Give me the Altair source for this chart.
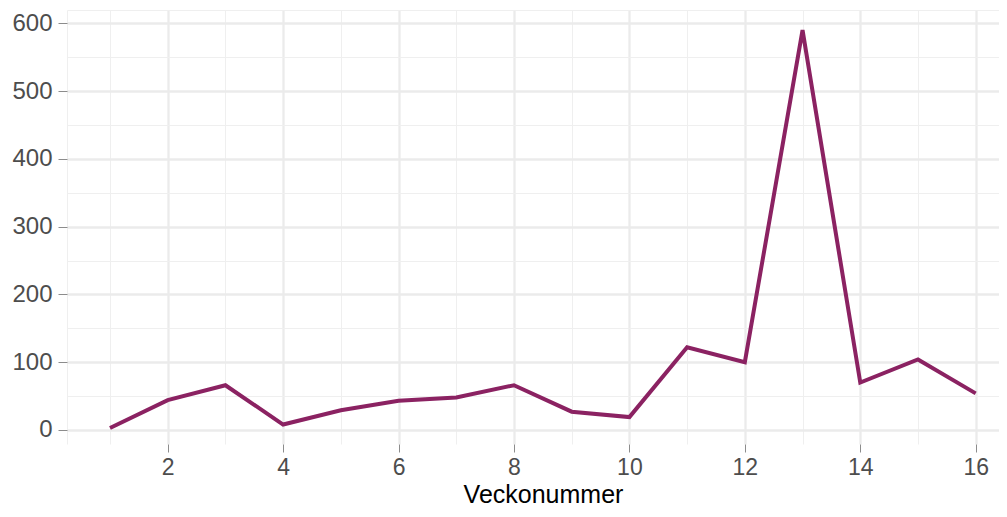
import altair as alt
import pandas as pd

# Data
weeks = list(range(1, 17))
cases = [3, 44, 66, 8, 29, 43, 48, 66, 27, 19, 122, 100, 590, 70, 104, 54]

# Axis tick / grid values
x_major = [2, 4, 6, 8, 10, 12, 14, 16]
x_minor = [0.255, 1, 3, 5, 7, 9, 11, 13, 15]
y_major = [0, 100, 200, 300, 400, 500, 600]
y_minor = [50, 150, 250, 350, 450, 550, 619.6]
x_domain = [0.255, 16.404]
y_domain = [-20.7, 619.6]

df = pd.DataFrame({"Vecka": weeks, "Antal": cases})

FONT = "Liberation Sans"
xs = alt.Scale(domain=x_domain, nice=False, zero=False)
ys = alt.Scale(domain=y_domain, nice=False, zero=False)

minor = alt.Chart(df).mark_line(opacity=0).encode(
    x=alt.X("Vecka:Q", scale=xs, axis=alt.Axis(
        values=x_minor, grid=True, gridColor="#efefef", gridWidth=1.1,
        labels=False, ticks=False, domain=False, title=None, orient="top")),
    y=alt.Y("Antal:Q", scale=ys, axis=alt.Axis(
        values=y_minor, grid=True, gridColor="#efefef", gridWidth=1.1,
        labels=False, ticks=False, domain=False, title=None, orient="right")),
)

major = alt.Chart(df).mark_line(color="#8b2262", strokeWidth=4).encode(
    x=alt.X("Vecka:Q", scale=xs, axis=alt.Axis(
        values=x_major, grid=True, gridColor="#ebebeb", gridWidth=2.3,
        domain=False, ticks=True, tickSize=8, tickColor="#8c8c8c", tickWidth=1,
        labelFontSize=23, labelColor="#4d4d4d", labelFont=FONT,
        labelBaseline="alphabetic", labelPadding=22,
        title="Veckonummer", titleFontSize=25, titleFont=FONT, titleColor="#000000",
        titleFontWeight="normal", titleBaseline="alphabetic", titleY=58.5, titleX=476)),
    y=alt.Y("Antal:Q", scale=ys, axis=alt.Axis(
        values=y_major, grid=True, gridColor="#ebebeb", gridWidth=2.3,
        domain=False, ticks=True, tickSize=9, tickColor="#8c8c8c", tickWidth=1,
        labelFontSize=24, labelColor="#4d4d4d", labelFont=FONT, labelPadding=6,
        title=None)),
)

chart = alt.layer(minor, major).resolve_axis(
    x="independent", y="independent"
).properties(
    width=932, height=434,
    autosize=alt.AutoSizeParams(type="none"),
    padding={"left": 59, "top": 2, "right": 0, "bottom": 65},
).configure_view(stroke=None)

chart.save("out.html", embed_options={"renderer": "svg", "actions": False})
